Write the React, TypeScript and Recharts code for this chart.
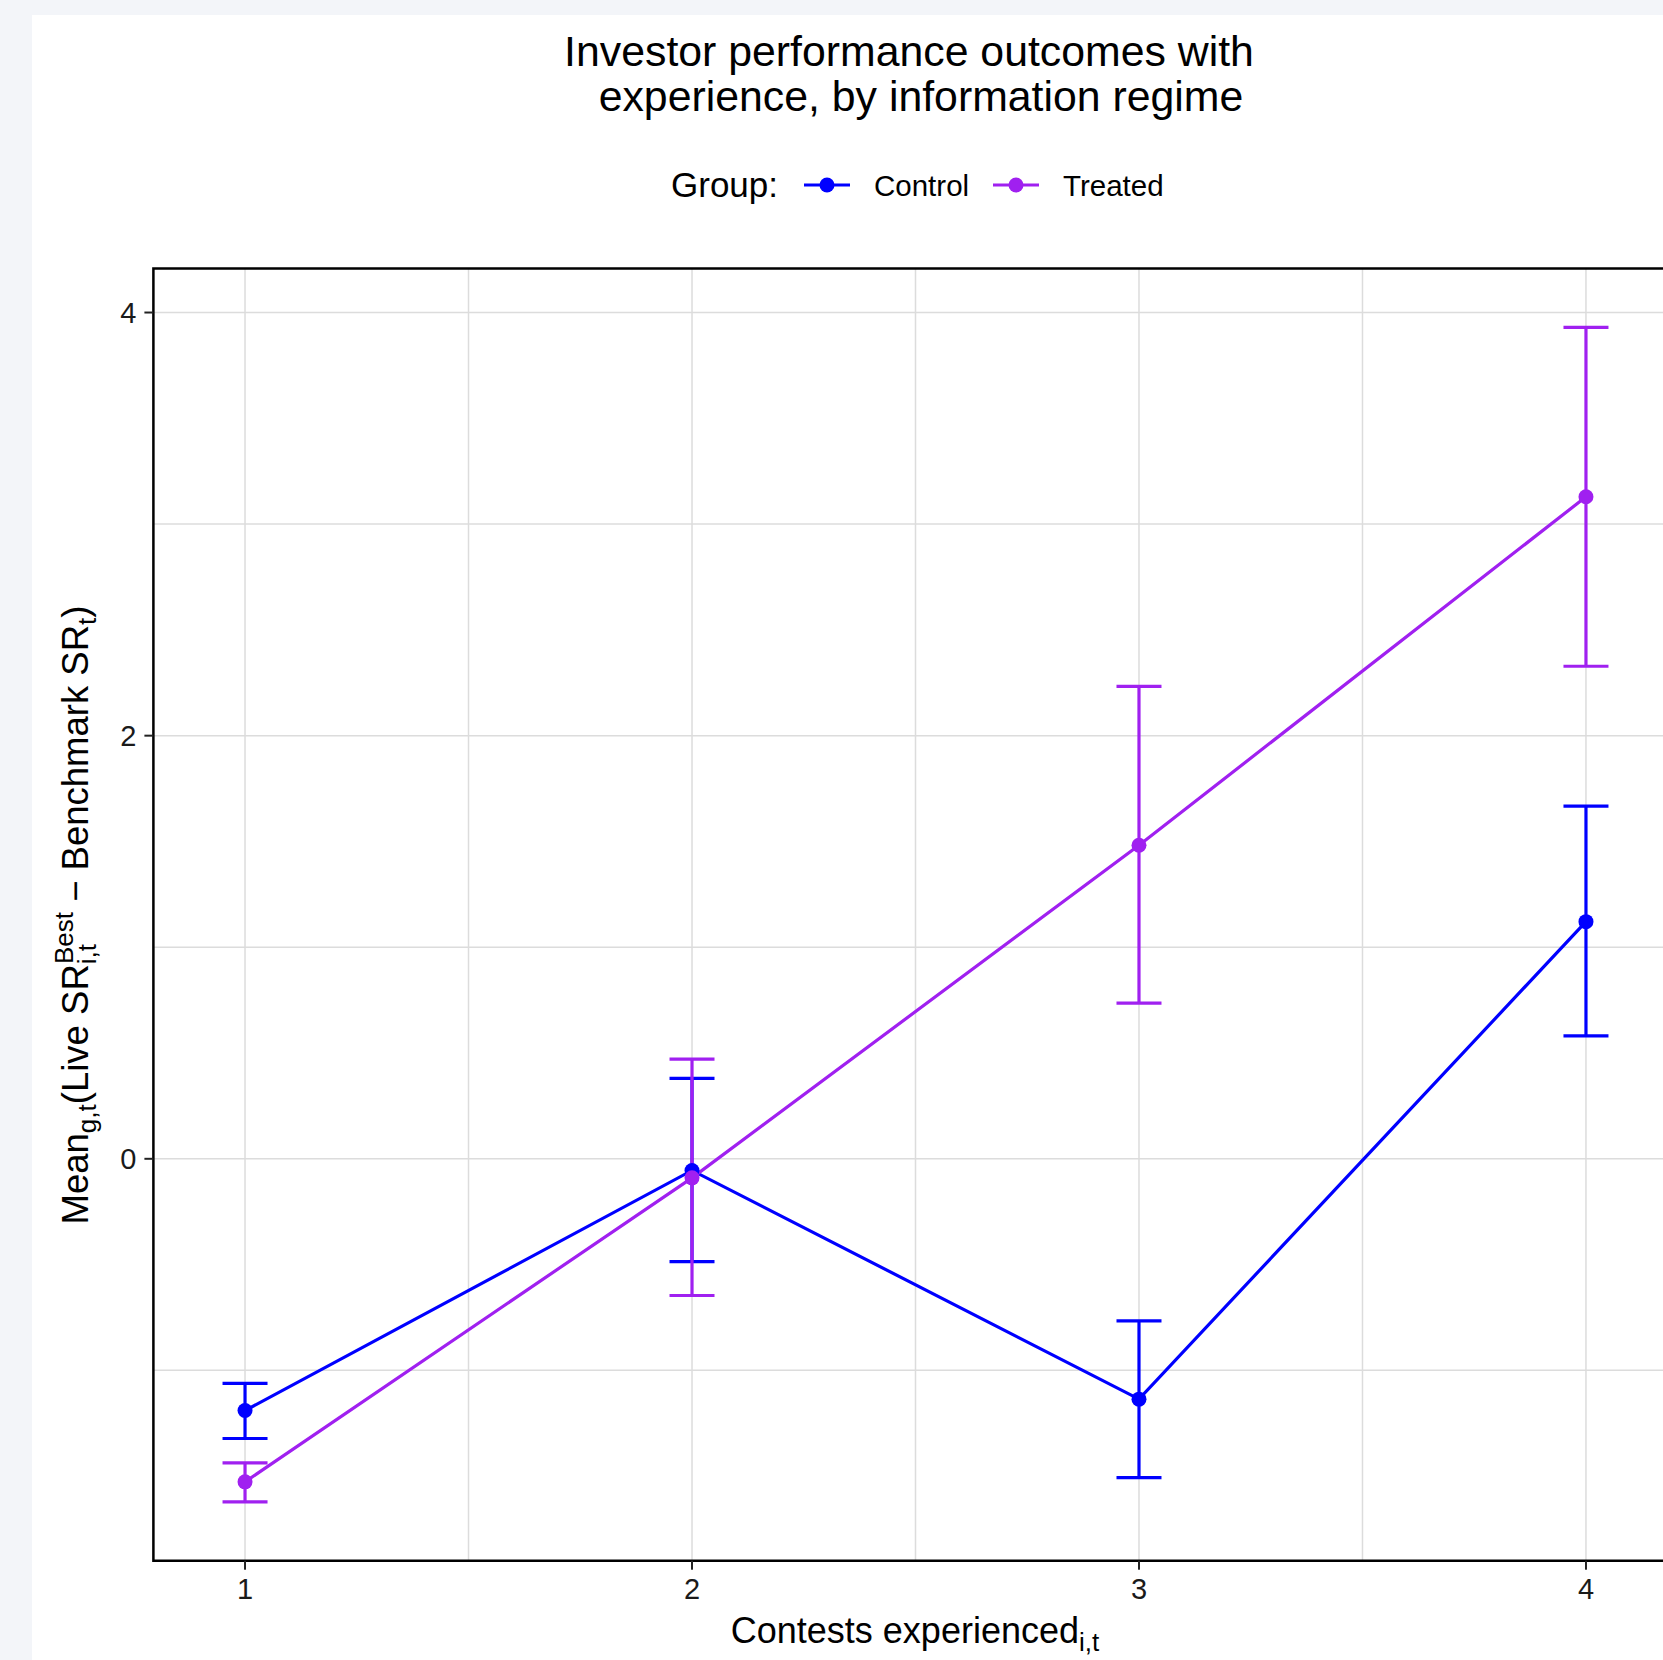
import {
  ComposedChart,
  Line,
  ErrorBar,
  XAxis,
  YAxis,
  CartesianGrid,
  ReferenceArea,
} from 'recharts';

// contests experienced (x) and group means with interval bounds
const contests = [1, 2, 3, 4];
const controlMean = [-1.19, -0.055, -1.136, 1.121];
const controlLow = [-1.322, -0.486, -1.507, 0.581];
const controlHigh = [-1.061, 0.38, -0.766, 1.667];
const treatedMean = [-1.527, -0.09, 1.482, 3.129];
const treatedLow = [-1.622, -0.646, 0.736, 2.328];
const treatedHigh = [-1.437, 0.471, 2.233, 3.93];

const xTicks = [1, 2, 3, 4];
const yTicks = [0, 2, 4];
const xGrid = [1, 1.5, 2, 2.5, 3, 3.5, 4];
const yGrid = [-1, 0, 1, 2, 3, 4];

const groups = [
  { key: 'control', name: 'Control', color: '#0000ff' },
  { key: 'treated', name: 'Treated', color: '#a020f0' },
];

const data = contests.map((x, i) => ({
  x,
  control: controlMean[i],
  controlErr: [controlMean[i] - controlLow[i], controlHigh[i] - controlMean[i]],
  treated: treatedMean[i],
  treatedErr: [treatedMean[i] - treatedLow[i], treatedHigh[i] - treatedMean[i]],
}));

// ggplot-like 5% expansion
const allLow = Math.min(...controlLow, ...treatedLow);
const allHigh = Math.max(...controlHigh, ...treatedHigh);
const pad = (allHigh - allLow) * 0.05;
const yDomain: [number, number] = [allLow - pad, allHigh + pad];
const xDomain: [number, number] = [0.795, 4.205];

const FONT = '"Liberation Sans", Arial, Helvetica, sans-serif';
const legendX = [804, 993];

const XTick = ({ x, y, payload }: any) => (
  <text x={x} y={y} dy="0.72em" textAnchor="middle" fontSize={29} fontFamily={FONT} fill="#1a1a1a">
    {payload.value}
  </text>
);

const YTick = ({ x, y, payload }: any) => (
  <text x={x} y={y} dy="0.36em" textAnchor="end" fontSize={29} fontFamily={FONT} fill="#1a1a1a">
    {payload.value}
  </text>
);

export default function App() {
  return (
    <div
      style={{
        position: 'absolute',
        left: 0,
        top: 0,
        width: 1663,
        height: 1660,
        overflow: 'hidden',
        background: '#f3f5f9',
        fontFamily: FONT,
      }}
    >
      <div style={{ position: 'absolute', left: 32, top: 15, right: 0, bottom: 0, background: '#fff' }} />
      <div style={{ position: 'absolute', left: 0, top: 0 }}>
        <ComposedChart
          width={1700}
          height={1660}
          data={data}
          margin={{ top: 268.6, right: 22.4, bottom: 0, left: 0 }}
        >
          <CartesianGrid
            stroke="#dcdcdc"
            strokeWidth={1.5}
            verticalValues={xGrid}
            horizontalValues={yGrid}
          />
          <XAxis
            dataKey="x"
            type="number"
            domain={xDomain}
            ticks={xTicks}
            allowDataOverflow
            height={99.3}
            axisLine={false}
            tickSize={9}
            tickMargin={8}
            tickLine={{ stroke: '#222', strokeWidth: 2 }}
            tick={<XTick />}
          />
          <YAxis
            type="number"
            domain={yDomain}
            ticks={yTicks}
            allowDataOverflow
            width={153.4}
            axisLine={false}
            tickSize={9}
            tickMargin={8}
            tickLine={{ stroke: '#222', strokeWidth: 2 }}
            tick={<YTick />}
          />
          <ReferenceArea
            x1={xDomain[0]}
            x2={xDomain[1]}
            y1={yDomain[0]}
            y2={yDomain[1]}
            fill="none"
            stroke="#000"
            strokeWidth={2.5}
            ifOverflow="visible"
          />
          {groups.map((g) => (
            <Line
              key={g.key}
              dataKey={g.key}
              name={g.name}
              stroke={g.color}
              strokeWidth={3.2}
              dot={{ r: 7.5, fill: g.color, stroke: g.color, strokeWidth: 0 }}
              activeDot={false}
              isAnimationActive={false}
            >
              <ErrorBar
                dataKey={`${g.key}Err`}
                direction="y"
                width={22.5}
                stroke={g.color}
                strokeWidth={3.2}
                isAnimationActive={false}
              />
            </Line>
          ))}
        </ComposedChart>
      </div>
      <svg
        width={1663}
        height={1660}
        style={{ position: 'absolute', left: 0, top: 0, pointerEvents: 'none' }}
        fontFamily={FONT}
      >
        <text x={909} y={66} textAnchor="middle" fontSize={42.8} fill="#000">
          Investor performance outcomes with
        </text>
        <text x={921} y={111} textAnchor="middle" fontSize={42.8} fill="#000">
          experience, by information regime
        </text>

        <text x={671} y={197} fontSize={35} fill="#000">
          Group:
        </text>
        {groups.map((g, i) => (
          <g key={g.key}>
            <line x1={legendX[i]} x2={legendX[i] + 46} y1={185} y2={185} stroke={g.color} strokeWidth={3.2} />
            <circle cx={legendX[i] + 23} cy={185} r={7.5} fill={g.color} />
            <text x={legendX[i] + 70} y={196} fontSize={29.5} fill="#000">
              {g.name}
            </text>
          </g>
        ))}

        <text x={915} y={1643} textAnchor="middle" fontSize={36} fill="#000">
          <tspan>Contests experienced</tspan>
          <tspan fontSize={26} dy={8}>i,t</tspan>
        </text>

        <text
          x={88}
          y={915}
          transform="rotate(-90, 88, 915)"
          textAnchor="middle"
          fontSize={36.5}
          fill="#000"
        >
          <tspan>Mean</tspan>
          <tspan fontSize={26} dy={8}>g,t</tspan>
          <tspan dy={-8}>(Live SR</tspan>
          <tspan fontSize={26} dy={8}>i,t</tspan>
          <tspan fontSize={26} dx={-20} dy={-23}>Best</tspan>
          <tspan dy={15}>{' \u2212 Benchmark SR'}</tspan>
          <tspan fontSize={26} dy={8}>t</tspan>
          <tspan dy={-8}>)</tspan>
        </text>
      </svg>
    </div>
  );
}
